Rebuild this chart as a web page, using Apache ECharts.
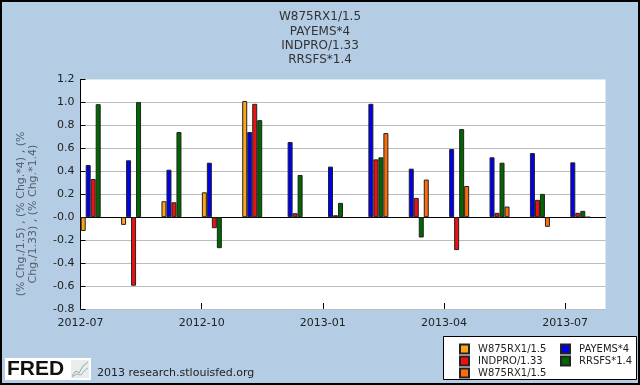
<!DOCTYPE html>
<html>
<head>
<meta charset="utf-8">
<script src="https://cdn.jsdelivr.net/npm/echarts@6/dist/echarts.min.js"></script>
<style>
html,body{margin:0;padding:0;background:#b4cde5;}
#chart{width:640px;height:385px;}
</style>
</head>
<body>
<div id="chart"></div>
<script>
// ---- data ----
const months = ['2012-07','2012-08','2012-09','2012-10','2012-11','2012-12','2013-01','2013-02','2013-03','2013-04','2013-05','2013-06','2013-07'];
const tickMonths = ['2012-07','2012-08','2012-09','2012-10','2012-11','2012-12','2013-01','2013-02','2013-03','2013-04','2013-05','2013-06','2013-07','2013-08'];
const yTickLabels = ['-0.8','-0.6','-0.4','-0.2','-0.0','0.2','0.4','0.6','0.8','1.0','1.2'];
const seriesNames = ['W875RX1/1.5','PAYEMS*4','INDPRO/1.33','RRSFS*1.4','W875RX1/1.5 (b)'];
const legendLabels = ['W875RX1/1.5','PAYEMS*4','INDPRO/1.33','RRSFS*1.4','W875RX1/1.5'];
const w875a  = [-0.12,-0.067,0.139,0.217,1.012,null,null,null,null,null,null,null,null];
const payems = [0.455,0.496,0.414,0.475,0.742,0.655,0.441,0.988,0.423,0.594,0.522,0.559,0.478];
const indpro = [0.333,-0.597,0.130,-0.096,0.988,0.035,0.017,0.504,0.168,-0.287,0.038,0.151,0.038];
const rrsfs  = [0.985,1.003,0.742,-0.270,0.846,0.368,0.125,0.522,-0.177,0.768,0.475,0.203,0.055];
const w875b  = [null,null,null,null,null,null,null,0.733,0.328,0.272,0.093,-0.084,0.0];
const seriesData = [w875a, payems, indpro, rrsfs, w875b];
const colors = ['#ffa319','#0000f0','#ee1111','#006600','#ff6a0a'];

const FONT = 'DejaVu Sans';
const chart = echarts.init(document.getElementById('chart'), null, {renderer:'canvas'});

const barSeries = seriesData.map((d,i)=>({
  name: seriesNames[i], type:'bar', xAxisIndex:0, yAxisIndex:0,
  data: d, barWidth:5, barGap:'0%',
  itemStyle:{color:colors[i], borderColor:'#222', borderWidth:1},
  animation:false
}));
// empty spacer slots so that each month's group starts at the month boundary
for (let k=0;k<3;k++){
  barSeries.push({name:'_pad'+k, type:'bar', xAxisIndex:0, data:[], barWidth:5, barGap:'0%', silent:true});
}

const legendLabelFor = {};
seriesNames.forEach((n,i)=>legendLabelFor[n]=legendLabels[i]);
const legendCommon = {
  orient:'vertical', itemWidth:9, itemHeight:9, itemGap:0, icon:'rect',
  textStyle:{fontFamily:FONT, fontSize:10, color:'#222', lineHeight:12, padding:[0,0,0,4]},
  formatter: n=>legendLabelFor[n], selectedMode:false
};

chart.setOption({
  backgroundColor:'#b4cde5',
  animation:false,
  title:{
    text:'W875RX1/1.5\nPAYEMS*4\nINDPRO/1.33\nRRSFS*1.4',
    left:'center', top:5,
    textStyle:{fontFamily:FONT, fontSize:12, fontWeight:'normal', color:'#333', lineHeight:14.3}
  },
  legend:[
    Object.assign({left:454, top:338, data:[seriesNames[0],seriesNames[2],seriesNames[4]]}, legendCommon),
    Object.assign({left:555, top:338, data:[seriesNames[1],seriesNames[3]]}, legendCommon)
  ],
  grid:{left:80.5, right:34.5, top:79.5, bottom:76, show:true, backgroundColor:'#ffffff', borderWidth:0},
  xAxis:[
    {type:'category', data:months, boundaryGap:true, position:'bottom',
     axisLine:{lineStyle:{color:'#000', width:1}}, axisTick:{show:false}, axisLabel:{show:false}, splitLine:{show:false}},
    {type:'category', data:tickMonths, boundaryGap:false, position:'bottom',
     axisLine:{show:false},
     axisTick:{show:true, inside:true, length:6, interval:2, lineStyle:{color:'#000'}},
     axisLabel:{interval:2, margin:9, fontFamily:FONT, fontSize:11, color:'#222'},
     splitLine:{show:false}}
  ],
  yAxis:{
    type:'value', min:-0.8, max:1.2, interval:0.2,
    axisLine:{show:true, lineStyle:{color:'#000'}},
    axisTick:{show:true, inside:true, length:5, lineStyle:{color:'#000'}},
    axisLabel:{margin:6, fontFamily:FONT, fontSize:11, color:'#222',
      formatter: v=>yTickLabels[Math.round((v+0.8)/0.2)]},
    splitLine:{show:true, showMaxLine:false, lineStyle:{color:'#bcbcbc', width:1}}
  },
  series: barSeries,
  graphic:[
    {type:'rect', z:100, shape:{x:1, y:1, width:638, height:383}, style:{fill:'none', stroke:'#000', lineWidth:2}, silent:true},
    {type:'rect', z:-1, shape:{x:443.5, y:336.5, width:193, height:43}, style:{fill:'#fff', stroke:'#000', lineWidth:1}, silent:true},
    {type:'text', z:10, x:27, y:214, rotation:Math.PI/2,
     style:{text:'(% Chg./1.5) , (% Chg.*4) , (%\nChg./1.33) , (% Chg.*1.4)', fontFamily:FONT, fontSize:11, lineHeight:12,
            fill:'#55606e', align:'center', verticalAlign:'middle'}},
    {type:'rect', shape:{x:5, y:358, width:86, height:22}, style:{fill:'#fff'}, silent:true},
    {type:'text', x:7, y:369, style:{text:'FRED', fontFamily:'Liberation Sans', fontWeight:'bold', fontSize:21, fill:'#111', verticalAlign:'middle', align:'left'}},
    {type:'rect', shape:{x:71, y:360, width:18, height:18}, style:{fill:'#e8ecef'}, silent:true},
    {type:'polyline', shape:{points:[[72,376],[76,371],[79,373],[83,366],[88,362]]}, style:{stroke:'#8fb08f', lineWidth:1, fill:'none'}},
    {type:'polyline', shape:{points:[[72,377],[77,374],[81,375],[85,370],[88,368]]}, style:{stroke:'#9fb0c8', lineWidth:1, fill:'none'}},
    {type:'text', x:97, y:373, style:{text:'2013 research.stlouisfed.org', fontFamily:FONT, fontSize:11, fill:'#222', verticalAlign:'middle', align:'left'}}
  ]
});
</script>
</body>
</html>
